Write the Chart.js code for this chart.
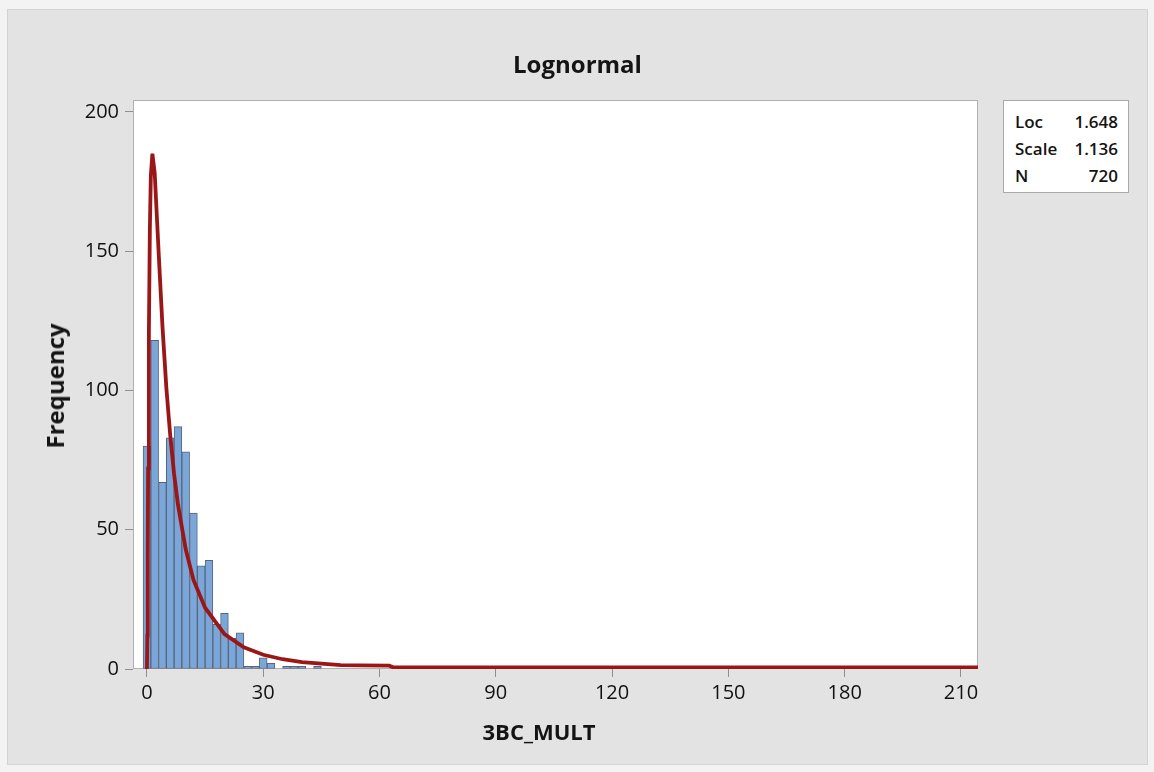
<!DOCTYPE html>
<html lang="en">
<head>
    <meta charset="UTF-8">
    <title>Lognormal - 3BC_MULT</title>
    <script src="https://cdn.jsdelivr.net/npm/chart.js"></script>
    <style>
        * {
            margin: 0;
            padding: 0;
            box-sizing: border-box;
        }

        body {
            width: 1154px;
            height: 772px;
            position: relative;
            overflow: hidden;
            background: #f3f3f3;
            font-family: 'Open Sans', 'Noto Sans', sans-serif;
            color: #141414;
        }

        /* gray graph panel */
        .frame {
            position: absolute;
            left: 7px;
            top: 9px;
            width: 1141px;
            height: 756px;
            background: #e3e3e3;
            border: 1px solid #d3d3d3;
        }

        #hist {
            position: absolute;
            left: 0;
            top: 0;
        }

        .title {
            position: absolute;
            left: 7px;
            width: 1141px;
            top: 48px;
            line-height: 32px;
            text-align: center;
            font-size: 24px;
            font-weight: 700;
        }

        .x-title {
            position: absolute;
            left: 439px;
            width: 200px;
            top: 715px;
            line-height: 32px;
            text-align: center;
            font-size: 22px;
            font-weight: 700;
        }

        .y-title {
            position: absolute;
            left: 55px;
            top: 386px;
            line-height: 32px;
            transform: translate(-50%, -50%) rotate(-90deg);
            font-size: 24px;
            font-weight: 700;
            white-space: nowrap;
        }

        /* fit parameters box */
        .stats {
            position: absolute;
            left: 1003px;
            top: 100px;
            width: 126px;
            height: 93px;
            background: #fff;
            border: 1px solid #a9a9a9;
            padding: 7px 10px 0 11px;
            font-size: 17px;
            font-weight: 600;
        }

        .stats div {
            display: flex;
            justify-content: space-between;
            line-height: 27px;
        }
    </style>
</head>
<body>
    <div class="frame"></div>
    <canvas id="hist" width="1154" height="772"></canvas>
    <div class="title">Lognormal</div>
    <div class="y-title">Frequency</div>
    <div class="x-title">3BC_MULT</div>
    <div class="stats">
        <div><span>Loc</span><span>1.648</span></div>
        <div><span>Scale</span><span>1.136</span></div>
        <div><span>N</span><span>720</span></div>
    </div>

    <script>
        // histogram bins (width 2, centred on even values)
        const binCenters = [0, 2, 4, 6, 8, 10, 12, 14, 16, 18, 20, 22, 24, 26, 28, 30, 32, 34, 36, 38, 40, 42, 44];
        const binCounts  = [80, 118, 67, 83, 87, 78, 56, 37, 39, 16, 20, 11, 13, 1, 1, 4, 2, 0, 1, 1, 1, 0, 1];

        // fitted lognormal curve, scaled to frequency
        const fitX = [0, 0.1, 0.2, 0.3, 0.5, 0.75, 1, 1.4, 2, 2.5, 3, 4, 5, 6, 7, 8, 10, 12, 15, 20, 25, 30, 35, 40, 45, 50, 55, 62.5, 63.5, 215];
        const fitY = [0, 12, 41, 72, 121, 158, 177, 185, 178, 164, 150, 123, 101, 84, 70, 59, 43, 32, 22, 12.5, 7.8, 5.1, 3.5, 2.5, 1.9, 1.4, 1.3, 1.2, 0.6, 0.6];

        const xTicks = [0, 30, 60, 90, 120, 150, 180, 210];
        const yTicks = [0, 50, 100, 150, 200];

        // white plot area with a thin gray frame
        const plotFrame = {
            id: 'plotFrame',
            beforeDraw(chart) {
                const { ctx, chartArea: a } = chart;
                ctx.save();
                ctx.fillStyle = '#ffffff';
                ctx.fillRect(a.left, a.top, a.right - a.left, a.bottom - a.top);
                ctx.restore();
            },
            beforeDatasetsDraw(chart) {
                const { ctx, chartArea: a } = chart;
                ctx.save();
                ctx.strokeStyle = '#b0b0b0';
                ctx.lineWidth = 1;
                ctx.strokeRect(a.left + 0.5, a.top + 0.5, a.right - a.left - 1, a.bottom - a.top - 1);
                ctx.restore();
            }
        };

        const tickFont = { family: "'Open Sans', 'Noto Sans', sans-serif", size: 20 };

        new Chart(document.getElementById('hist').getContext('2d'), {
            type: 'bar',
            data: {
                datasets: [{
                    type: 'line',
                    data: fitX.map((x, i) => ({ x: x, y: fitY[i] })),
                    borderColor: '#9b1717',
                    borderWidth: 3.8,
                    pointRadius: 0,
                    tension: 0,
                    order: 0
                }, {
                    type: 'bar',
                    data: binCenters.map((x, i) => ({ x: x, y: binCounts[i] })),
                    backgroundColor: '#7ba6d9',
                    borderColor: '#56667a',
                    borderWidth: 1,
                    borderSkipped: false,
                    barPercentage: 1,
                    categoryPercentage: 1,
                    order: 1
                }]
            },
            options: {
                responsive: false,
                devicePixelRatio: 1,
                animation: false,
                layout: { padding: { left: 0, right: 176, top: 100, bottom: 0 } },
                plugins: {
                    legend: { display: false },
                    tooltip: { enabled: false }
                },
                scales: {
                    x: {
                        type: 'linear',
                        min: -3.6,
                        max: 214.4,
                        offset: false,
                        afterFit: s => { s.height = 103; },
                        afterBuildTicks: s => { s.ticks = xTicks.map(v => ({ value: v })); },
                        ticks: { font: tickFont, color: '#111111', padding: 4, maxRotation: 0 },
                        grid: { offset: false, drawOnChartArea: false, tickLength: 8, color: '#8f8f8f' },
                        border: { display: false }
                    },
                    y: {
                        min: 0,
                        max: 204.3,
                        afterFit: s => { s.width = 133; },
                        afterBuildTicks: s => { s.ticks = yTicks.map(v => ({ value: v })); },
                        ticks: { font: tickFont, color: '#111111', padding: 6 },
                        grid: { drawOnChartArea: false, tickLength: 8, color: '#8f8f8f' },
                        border: { display: false }
                    }
                }
            },
            plugins: [plotFrame]
        });
    </script>
</body>
</html>
